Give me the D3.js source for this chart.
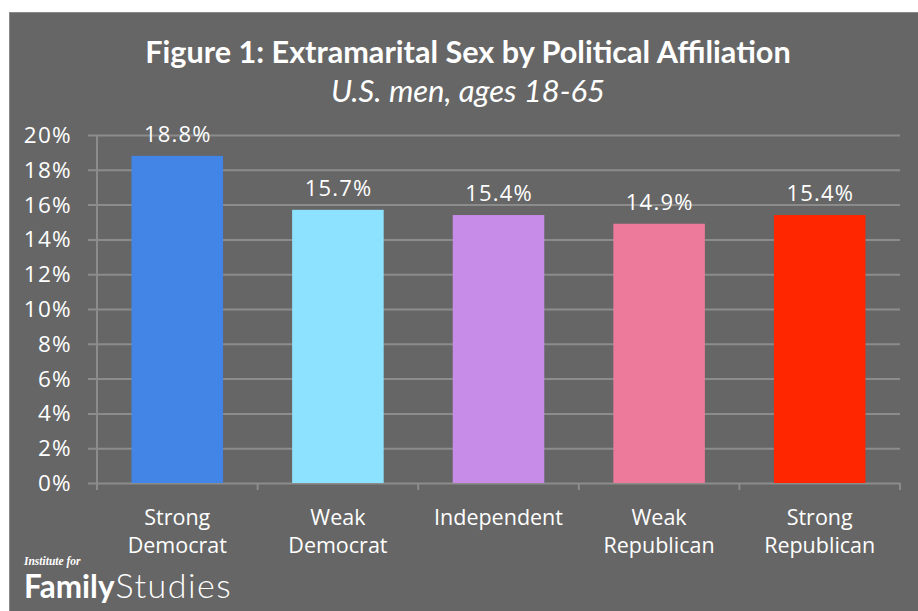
<!DOCTYPE html>
<html><head><meta charset="utf-8">
<script src="https://cdn.jsdelivr.net/npm/d3@7"></script>
<style>html,body{margin:0;padding:0;background:#fff;}svg{display:block;}</style>
</head><body>
<svg id="chart" width="918" height="611"></svg>
<script>
const categories = [["Strong","Democrat"],["Weak","Democrat"],["Independent"],["Weak","Republican"],["Strong","Republican"]];
const values = [18.8, 15.7, 15.4, 14.9, 15.4];
const colors = ["#4285E6","#8DE3FF","#C78BE8","#EE7A9B","#FF2600"];
const yTicks = [0,2,4,6,8,10,12,14,16,18,20];
const title = "Figure 1: Extramarital Sex by Political Affiliation";
const subtitle = "U.S. men, ages 18-65";

(function(){
const svg = d3.select("#chart");
svg.append("rect").attr("x",9.5).attr("y",12.5).attr("width",920).attr("height",610)
  .attr("fill","#666666").attr("stroke","#8a8a8a").attr("stroke-width",1);

const pl = 97, pr = 900, pt = 135, pb = 483;
const x = d3.scaleBand().domain(d3.range(values.length)).range([pl,pr]).paddingInner(0.43).paddingOuter(0.215);
const y = d3.scaleLinear().domain([0,20]).range([pb,pt]);
const lab = "'Open Sans', sans-serif";

svg.append("g").selectAll("line").data(yTicks).join("line")
  .attr("x1",88).attr("x2",pr).attr("y1",d=>y(d)+0.5).attr("y2",d=>y(d)+0.5)
  .attr("stroke","#8c8c8c").attr("stroke-width",2);
svg.append("line").attr("x1",pl).attr("x2",pl).attr("y1",pt).attr("y2",pb+6)
  .attr("stroke","#8c8c8c").attr("stroke-width",2);
svg.append("g").selectAll("text").data(yTicks).join("text")
  .attr("x",72).attr("y",d=>y(d)+8).attr("text-anchor","end")
  .attr("font-family",lab).attr("font-size",22.5).attr("letter-spacing",1.3).attr("fill","#fff").text(d=>d+"%");

const xb = d3.range(values.length+1).map(i=>pl+i*(pr-pl)/values.length);
svg.append("g").selectAll("line").data(xb).join("line")
  .attr("x1",d=>d).attr("x2",d=>d).attr("y1",pb).attr("y2",pb+7)
  .attr("stroke","#8c8c8c").attr("stroke-width",2);

svg.append("g").selectAll("rect").data(values).join("rect")
  .attr("x",(d,i)=>x(i)).attr("width",x.bandwidth())
  .attr("y",d=>y(d)).attr("height",d=>pb-y(d))
  .attr("fill",(d,i)=>colors[i]);

svg.append("g").selectAll("text").data(values).join("text")
  .attr("x",(d,i)=>x(i)+x.bandwidth()/2+0.6).attr("y",d=>y(d)-14)
  .attr("text-anchor","middle").attr("font-family",lab).attr("font-size",22).attr("letter-spacing",1.2)
  .attr("fill","#fff").text(d=>d.toFixed(1)+"%");

const cat = svg.append("g").selectAll("text").data(categories).join("text")
  .attr("x",(d,i)=>x(i)+x.bandwidth()/2).attr("y",525)
  .attr("text-anchor","middle").attr("font-family",lab).attr("font-size",21.5).attr("fill","#fff");
cat.selectAll("tspan").data(d=>d).join("tspan")
  .attr("x",function(){return this.parentNode.getAttribute("x");})
  .attr("dy",(d,i)=>i===0?0:28).text(d=>d);

svg.append("text").attr("x",468).attr("y",63).attr("text-anchor","middle")
  .attr("font-family","Lato").attr("font-weight","bold").attr("font-size",30.6).attr("fill","#fff").text(title);
svg.append("text").attr("x",468).attr("y",102).attr("text-anchor","middle")
  .attr("font-family","Lato").attr("font-style","italic").attr("font-size",31).attr("fill","#fff").text(subtitle);

svg.append("text").attr("x",24).attr("y",565).attr("font-family","Liberation Serif")
  .attr("font-style","italic").attr("font-weight","bold").attr("font-size",11.5).attr("fill","#fff").text("Institute for");
const logo = svg.append("text").attr("x",24).attr("y",598).attr("font-family","Lato").attr("font-size",31.5).attr("fill","#fff");
logo.append("tspan").attr("font-weight","bold").text("Family");
logo.append("tspan").attr("font-weight","300").attr("font-size",34).attr("dx",1).attr("letter-spacing",1.5).text("Studies");
})();
</script>
</body></html>
